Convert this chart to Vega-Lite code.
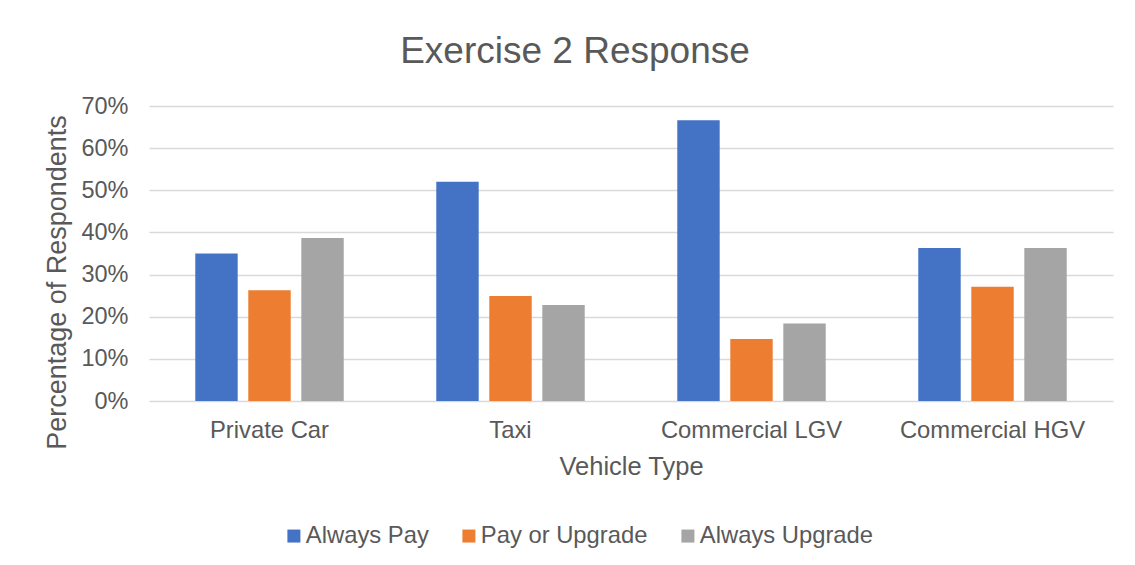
{
  "$schema": "https://vega.github.io/schema/vega-lite/v6.json",
  "width": 964,
  "height": 295,
  "autosize": "none",
  "padding": {"left": 149, "top": 106, "right": 22, "bottom": 164},
  "background": "white",
  "title": {
    "text": "Exercise 2 Response",
    "fontSize": 37,
    "font": "Liberation Sans",
    "fontWeight": "normal",
    "color": "#595959",
    "anchor": "middle",
    "frame": "group",
    "dx": -56,
    "dy": 36,
    "baseline": "alphabetic",
    "offset": 30
  },
  "data": {
    "values": [
      {"vehicle": "Private Car", "response": "Always Pay", "value": 0.350},
      {"vehicle": "Private Car", "response": "Pay or Upgrade", "value": 0.263},
      {"vehicle": "Private Car", "response": "Always Upgrade", "value": 0.387},
      {"vehicle": "Taxi", "response": "Always Pay", "value": 0.520},
      {"vehicle": "Taxi", "response": "Pay or Upgrade", "value": 0.249},
      {"vehicle": "Taxi", "response": "Always Upgrade", "value": 0.228},
      {"vehicle": "Commercial LGV", "response": "Always Pay", "value": 0.666},
      {"vehicle": "Commercial LGV", "response": "Pay or Upgrade", "value": 0.147},
      {"vehicle": "Commercial LGV", "response": "Always Upgrade", "value": 0.184},
      {"vehicle": "Commercial HGV", "response": "Always Pay", "value": 0.363},
      {"vehicle": "Commercial HGV", "response": "Pay or Upgrade", "value": 0.271},
      {"vehicle": "Commercial HGV", "response": "Always Upgrade", "value": 0.363}
    ]
  },
  "mark": {"type": "bar"},
  "encoding": {
    "x": {
      "field": "vehicle",
      "type": "nominal",
      "sort": ["Private Car", "Taxi", "Commercial LGV", "Commercial HGV"],
      "scale": {"paddingInner": 0.34, "paddingOuter": 0.17},
      "axis": {
        "title": "Vehicle Type",
        "labelAngle": 0,
        "labelFontSize": 23.8,
        "labelLimit": 400,
        "labelBaseline": "alphabetic",
        "labelPadding": 36,
        "ticks": false,
        "tickSize": 0,
        "domain": false,
        "titleFontSize": 25.5,
        "titleBaseline": "alphabetic",
        "titleY": 73
      }
    },
    "xOffset": {
      "field": "response",
      "type": "nominal",
      "sort": ["Always Pay", "Pay or Upgrade", "Always Upgrade"],
      "scale": {"paddingInner": 0.2, "paddingOuter": 0.1}
    },
    "y": {
      "field": "value",
      "type": "quantitative",
      "scale": {"domain": [0, 0.7]},
      "axis": {
        "title": "Percentage of Respondents",
        "format": ".0%",
        "values": [0, 0.1, 0.2, 0.3, 0.4, 0.5, 0.6, 0.7],
        "labelFontSize": 23.5,
        "labelPadding": 21,
        "ticks": false,
        "tickSize": 0,
        "domain": false,
        "titleFontSize": 27,
        "titleAngle": 270,
        "titleAlign": "center",
        "titleBaseline": "alphabetic",
        "titleX": -84,
        "titleY": 176
      }
    },
    "color": {
      "field": "response",
      "type": "nominal",
      "sort": ["Always Pay", "Pay or Upgrade", "Always Upgrade"],
      "scale": {
        "domain": ["Always Pay", "Pay or Upgrade", "Always Upgrade"],
        "range": ["#4472C4", "#ED7D31", "#A5A5A5"]
      },
      "legend": {
        "title": null,
        "orient": "none",
        "direction": "horizontal",
        "legendX": 133,
        "legendY": 418,
        "symbolType": "square",
        "symbolSize": 169,
        "symbolStrokeWidth": 0,
        "labelFontSize": 23.8,
        "labelOffset": 0,
        "labelLimit": 400,
        "columnPadding": 28
      }
    }
  },
  "config": {
    "font": "Liberation Sans",
    "view": {"stroke": null},
    "axis": {
      "labelColor": "#595959",
      "titleColor": "#595959",
      "titleFontWeight": "normal",
      "labelFont": "Liberation Sans",
      "titleFont": "Liberation Sans",
      "gridColor": "#D9D9D9",
      "gridWidth": 1.3
    },
    "axisX": {"grid": false},
    "axisY": {"grid": true},
    "legend": {
      "labelColor": "#595959",
      "labelFont": "Liberation Sans",
      "symbolOpacity": 1
    }
  }
}
